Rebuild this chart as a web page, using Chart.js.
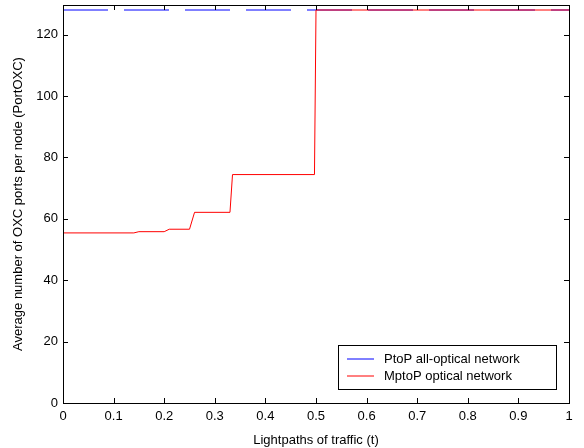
<!DOCTYPE html>
<html>
<head>
<meta charset="utf-8">
<script src="https://cdn.jsdelivr.net/npm/chart.js@4/dist/chart.umd.min.js"></script>
<style>
  html, body { margin: 0; padding: 0; background: #fff; }
  #wrap { width: 584px; height: 448px; }
</style>
</head>
<body>
<div id="wrap"><canvas id="oxcChart" width="584" height="448"></canvas></div>
<script>
// data
var ptopX = [0, 1];
var ptopY = [128, 128];
var mptopX = [0, 0.14, 0.15, 0.2, 0.21, 0.25, 0.26, 0.33, 0.335, 0.497, 0.5, 1];
var mptopY = [55.4, 55.4, 55.8, 55.8, 56.6, 56.6, 62.1, 62.1, 74.4, 74.4, 128, 128];
var xTicks = [0, 0.1, 0.2, 0.3, 0.4, 0.5, 0.6, 0.7, 0.8, 0.9, 1];
var yTicks = [0, 20, 40, 60, 80, 100, 120];
var seriesNames = ['PtoP all-optical network', 'MptoP optical network'];

function toPoints(xs, ys) {
    return xs.map(function (x, i) { return { x: x, y: ys[i] }; });
}

var FONT = '"Liberation Sans", Arial, sans-serif';

// box, inward ticks and legend like the matlab figure
var framePlugin = {
    id: 'frame',
    afterDraw: function (chart) {
        var ctx = chart.ctx;
        var a = chart.chartArea;
        var xs = chart.scales.x, ys = chart.scales.y;
        var tl = 5;
        ctx.save();
        ctx.strokeStyle = '#000';
        ctx.lineWidth = 1;
        ctx.beginPath();
        xTicks.forEach(function (v) {
            var px = Math.round(xs.getPixelForValue(v)) + 0.5;
            ctx.moveTo(px, a.bottom); ctx.lineTo(px, a.bottom - tl);
            ctx.moveTo(px, a.top); ctx.lineTo(px, a.top + tl);
        });
        yTicks.forEach(function (v) {
            var py = Math.round(ys.getPixelForValue(v)) + 0.5;
            ctx.moveTo(a.left, py); ctx.lineTo(a.left + tl, py);
            ctx.moveTo(a.right, py); ctx.lineTo(a.right - tl, py);
        });
        ctx.stroke();
        ctx.strokeRect(Math.round(a.left) + 0.5, Math.round(a.top) + 0.5,
            Math.round(a.right - a.left), Math.round(a.bottom - a.top));

        // legend box
        var lx = 338.5, ly = 345.5, lw = 218, lh = 44;
        ctx.fillStyle = '#fff';
        ctx.fillRect(lx, ly, lw, lh);
        ctx.strokeRect(lx, ly, lw, lh);
        ctx.font = '13px ' + FONT;
        ctx.textBaseline = 'middle';
        ctx.textAlign = 'left';
        chart.data.datasets.forEach(function (ds, i) {
            var ry = Math.round(ly + 13 + i * 17);
            ctx.strokeStyle = ds.borderColor;
            ctx.beginPath();
            ctx.moveTo(347, ry); ctx.lineTo(374, ry);
            ctx.stroke();
            ctx.fillStyle = '#000';
            ctx.fillText(seriesNames[i], 384, ry + 0.5);
        });
        ctx.restore();
    }
};

var oxcChart = new Chart(document.getElementById('oxcChart').getContext('2d'), {
    type: 'scatter',
    data: {
        datasets: [{
            label: seriesNames[0],
            data: toPoints(ptopX, ptopY),
            borderColor: '#0000ff',
            borderWidth: 1,
            borderDash: [45, 16],
            showLine: true,
            pointRadius: 0,
            fill: false,
            order: 2
        }, {
            label: seriesNames[1],
            data: toPoints(mptopX, mptopY),
            borderColor: '#ff0000',
            borderWidth: 1,
            showLine: true,
            pointRadius: 0,
            fill: false,
            order: 1
        }]
    },
    options: {
        responsive: false,
        animation: false,
        layout: { padding: { top: 5, right: 15, left: 0, bottom: 0 } },
        elements: { line: { tension: 0 } },
        scales: {
            x: {
                type: 'linear',
                min: 0,
                max: 1,
                afterFit: function (s) { s.height = 45; s.paddingLeft = 0; s.paddingRight = 0; },
                afterBuildTicks: function (s) { s.ticks = xTicks.map(function (v) { return { value: v }; }); },
                grid: { display: false, drawTicks: false },
                border: { display: false },
                ticks: {
                    color: '#000',
                    padding: 6,
                    maxRotation: 0,
                    font: { family: FONT, size: 13 },
                    callback: function (v) { return String(Number(v.toFixed(1))); }
                },
                title: {
                    display: true,
                    text: 'Lightpaths of traffic (t)',
                    color: '#000',
                    padding: { top: 0, bottom: 0 },
                    font: { family: FONT, size: 13 }
                }
            },
            y: {
                type: 'linear',
                min: 0,
                max: 129.63,
                afterFit: function (s) { s.width = 63; s.paddingTop = 0; s.paddingBottom = 0; },
                afterBuildTicks: function (s) { s.ticks = yTicks.map(function (v) { return { value: v }; }); },
                grid: { display: false, drawTicks: false },
                border: { display: false },
                ticks: {
                    color: '#000',
                    padding: 5,
                    font: { family: FONT, size: 13 }
                },
                title: {
                    display: true,
                    text: 'Average number of OXC ports per node (PortOXC)',
                    color: '#000',
                    padding: { top: 11, bottom: 0 },
                    font: { family: FONT, size: 13 }
                }
            }
        },
        plugins: {
            legend: { display: false },
            tooltip: { enabled: false }
        }
    },
    plugins: [framePlugin]
});
</script>
</body>
</html>
